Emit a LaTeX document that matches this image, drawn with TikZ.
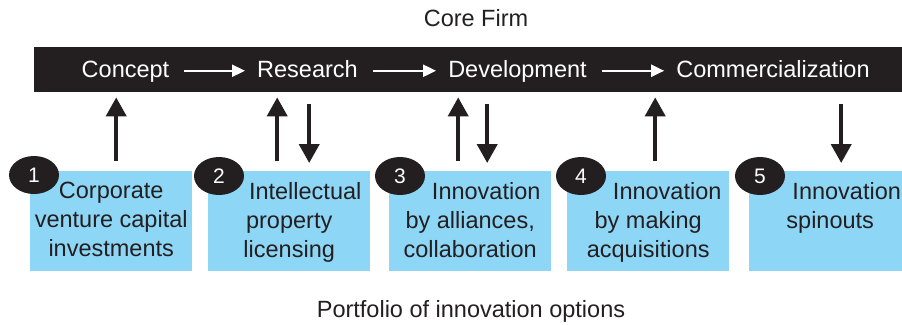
\documentclass[tikz,border=0pt]{standalone}
\usepackage{fontspec}
\setmainfont{Liberation Sans}
\usetikzlibrary{arrows.meta,shapes.geometric}
\definecolor{ink}{HTML}{231F20}
\definecolor{boxblue}{RGB}{141,214,246}
\begin{document}
\begin{tikzpicture}[x=1bp,y=-1bp,
  lbl/.style={font=\fontsize{23.5bp}{29bp}\selectfont, inner sep=0pt},
  barlbl/.style={lbl, text=white, text height=17.5bp, text depth=5bp, anchor=base},
  optbox/.style={fill=boxblue, minimum width=162bp, minimum height=100bp, inner sep=0pt, anchor=north west},
  opttext/.style={lbl, text=ink, align=center, anchor=north},
  badge/.style={ellipse, fill=ink, minimum width=50bp, minimum height=38bp, inner sep=0pt, text=white, font=\fontsize{21bp}{24bp}\selectfont},
  flow/.style={draw=white, line width=2.2bp, -{Triangle[width=12bp,length=13bp]}, shorten <=15bp, shorten >=12bp},
  vert/.style={draw=ink, line width=4bp, -{Triangle[width=20bp,length=19bp]}},
  uparr/.style={vert, shorten <=10bp, shorten >=5bp},
  downarr/.style={vert, shorten <=12bp, shorten >=8bp},
]
\useasboundingbox (0,0) rectangle (902,324);

% title texts
\node[lbl, text=ink, anchor=base] (title) at (476,26) {Core Firm};
\node[lbl, text=ink, anchor=base] (caption) at (471,317) {Portfolio of innovation options};

% black bar
\node[fill=ink, minimum width=868bp, minimum height=45bp, inner sep=0pt, anchor=north west] (bar) at (34,47) {};
\node[barlbl] (concept) at (125.5,77) {Concept};
\node[barlbl] (research) at (307.5,77) {Research};
\node[barlbl] (development) at (517.5,77) {Development};
\node[barlbl] (commercial) at (773,77) {Commercialization};
\draw[flow] (concept) -- (research);
\draw[flow] (research) -- (development);
\draw[flow] (development) -- (commercial);

% option boxes
\node[optbox] (b1) at (30,171) {};
\node[optbox] (b2) at (208,171) {};
\node[optbox] (b3) at (389,171) {};
\node[optbox] (b4) at (567,171) {};
\node[optbox] (b5) at (749,171) {};

\node[opttext] (t1) at ([yshift=-11bp]b1.north) {Corporate\\venture capital\\investments};
\node[opttext] (t2) at ([yshift=-11bp]b2.north) {\hspace*{32bp}Intellectual\\property\\licensing};
\node[opttext] (t3) at ([yshift=-11bp]b3.north) {\hspace*{32bp}Innovation\\by alliances,\\collaboration};
\node[opttext] (t4) at ([yshift=-11bp]b4.north) {\hspace*{38bp}Innovation\\by making\\acquisitions};
\node[opttext] (t5) at ([yshift=-11bp]b5.north) {\hspace*{33bp}Innovation\\spinouts};

% badges
\node[badge] (n1) at (34,175) {1};
\node[badge] (n2) at (219,176) {2};
\node[badge] (n3) at (400,176) {3};
\node[badge] (n4) at (581,176) {4};
\node[badge] (n5) at (760,176) {5};

% vertical arrows
\draw[uparr] ([xshift=5bp]b1.north) -- ([xshift=5bp]b1.north |- bar.south);
\draw[uparr] ([xshift=-12bp]b2.north) -- ([xshift=-12bp]b2.north |- bar.south);
\draw[downarr] ([xshift=20bp]b2.north |- bar.south) -- ([xshift=20bp]b2.north);
\draw[uparr] ([xshift=-12bp]b3.north) -- ([xshift=-12bp]b3.north |- bar.south);
\draw[downarr] ([xshift=17bp]b3.north |- bar.south) -- ([xshift=17bp]b3.north);
\draw[uparr] ([xshift=7bp]b4.north) -- ([xshift=7bp]b4.north |- bar.south);
\draw[downarr] ([xshift=11bp]b5.north |- bar.south) -- ([xshift=11bp]b5.north);
\end{tikzpicture}
\end{document}
